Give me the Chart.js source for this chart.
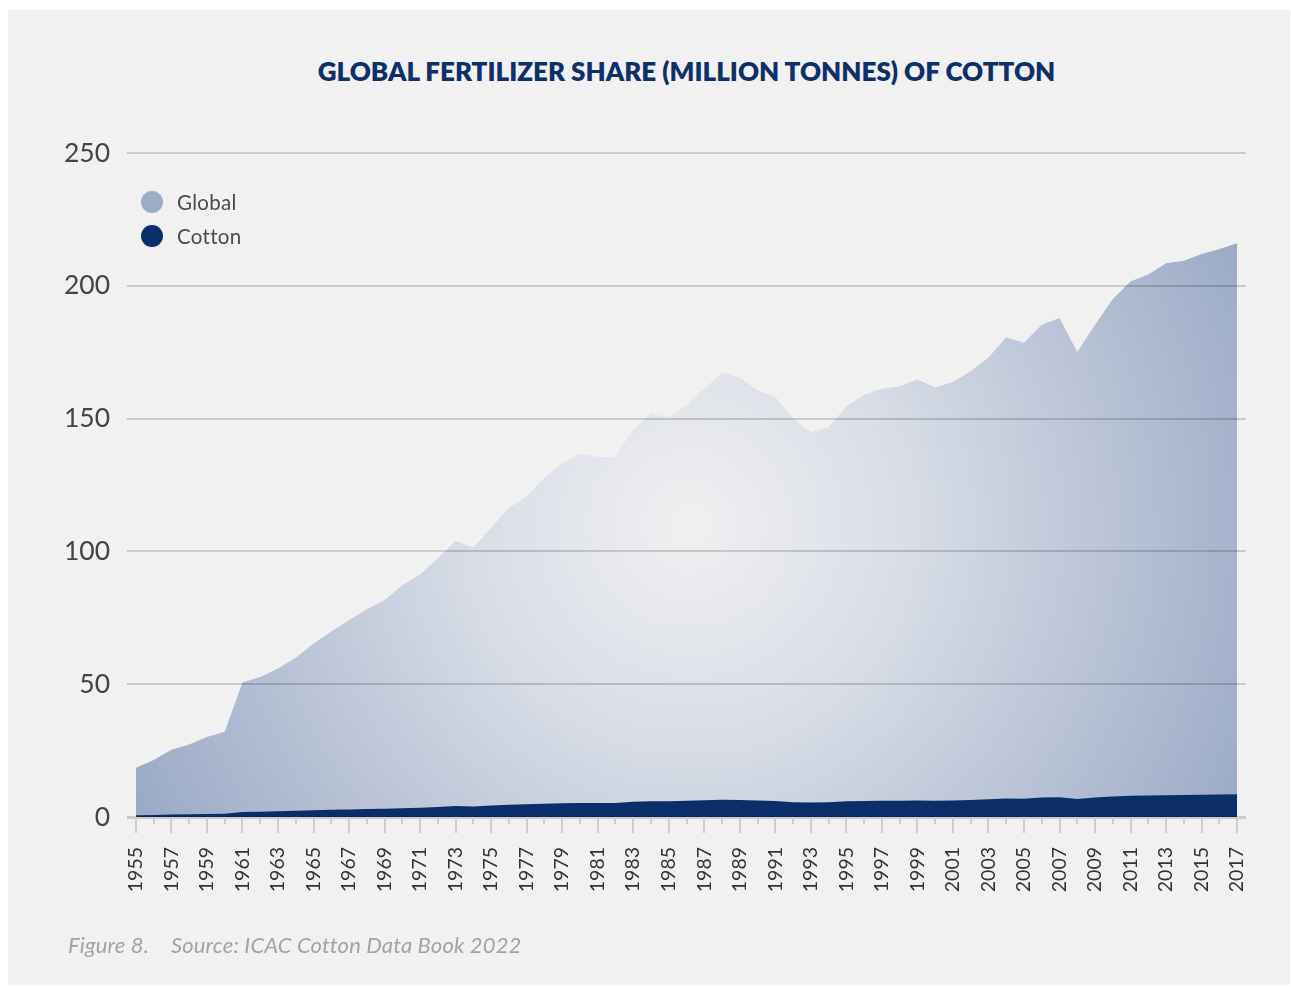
<!DOCTYPE html>
<html>
<head>
<meta charset="utf-8">
<script src="https://cdn.jsdelivr.net/npm/chart.js@4.4.1/dist/chart.umd.min.js"></script>
<style>
  html, body { margin: 0; padding: 0; background: #ffffff; }
  body { width: 1291px; height: 987px; position: relative; overflow: hidden; font-family: Lato, "Open Sans", sans-serif; }
  #panel { position: absolute; left: 8px; top: 10px; width: 1282px; height: 975px; background: #f1f1f1; }
  #wrap { position: absolute; left: 0; top: 0; width: 1291px; height: 987px; }
  #title { position: absolute; left: 0; width: 1373px; top: 55px; text-align: center; font-weight: 800; font-size: 26px; color: #0d2f6a; letter-spacing: 0px; white-space: nowrap; }
  #legend { position: absolute; left: 141px; top: 185px; }
  .li { display: flex; align-items: center; height: 34px; font-size: 20.5px; color: #4a4a4a; letter-spacing: 0.3px; }
  .dot { width: 22px; height: 22px; border-radius: 50%; margin-right: 14px; }
  #note { position: absolute; left: 68px; top: 931px; font-style: italic; font-size: 22px; color: #a3a3a3; white-space: nowrap; letter-spacing: 0.15px; }
  #note span.g { display: inline-block; width: 22px; }
</style>
</head>
<body>
<div id="panel"></div>
<div id="title">GLOBAL FERTILIZER SHARE (MILLION TONNES) OF COTTON</div>
<div id="wrap"><canvas id="c" width="1291" height="987"></canvas></div>
<div id="legend">
  <div class="li"><div class="dot" style="background:#9dadc8"></div>Global</div>
  <div class="li"><div class="dot" style="background:#0a2e69"></div>Cotton</div>
</div>
<div id="note">Figure 8.<span class="g"></span>Source: ICAC Cotton Data Book 2022</div>
<script>
const years = ["1955","1956","1957","1958","1959","1960","1961","1962","1963","1964",
  "1965","1966","1967","1968","1969","1970","1971","1972","1973","1974",
  "1975","1976","1977","1978","1979","1980","1981","1982","1983","1984",
  "1985","1986","1987","1988","1989","1990","1991","1992","1993","1994",
  "1995","1996","1997","1998","1999","2000","2001","2002","2003","2004",
  "2005","2006","2007","2008","2009","2010","2011","2012","2013","2014",
  "2015","2016","2017"];

const globalValues = [18.5, 21.5, 25.3, 27.3, 30.1, 32.1, 50.6, 52.7, 55.9, 60.0,
  65.3, 69.8, 74.1, 78.2, 81.6, 87.3, 91.4, 97.3, 103.9, 101.4,
  108.9, 116.3, 120.8, 127.7, 133.0, 136.8, 135.5, 135.5, 145.9, 151.9,
  150.5, 155.0, 161.2, 167.2, 165.5, 160.7, 158.2, 149.9, 144.9, 146.7,
  154.6, 159.0, 161.2, 162.2, 164.7, 161.8, 163.8, 167.8, 173.0, 180.6,
  178.6, 185.3, 187.9, 175.1, 185.3, 195.0, 201.6, 204.3, 208.5, 209.4,
  212.0, 213.9, 216.0];

const cottonValues = [0.7, 0.8, 0.9, 1.0, 1.1, 1.2, 1.9, 2.0, 2.2, 2.4,
  2.5, 2.7, 2.8, 3.0, 3.1, 3.3, 3.5, 3.8, 4.1, 4.0,
  4.3, 4.6, 4.8, 5.0, 5.2, 5.3, 5.3, 5.3, 5.7, 5.9,
  5.9, 6.1, 6.3, 6.5, 6.4, 6.2, 6.0, 5.6, 5.5, 5.6,
  5.9, 6.0, 6.1, 6.1, 6.2, 6.1, 6.2, 6.4, 6.7, 7.0,
  6.9, 7.3, 7.4, 6.8, 7.3, 7.7, 8.0, 8.1, 8.2, 8.3,
  8.4, 8.5, 8.6];

const yTicks = [0, 50, 100, 150, 200, 250];

function globalFill(ctx) {
  const chart = ctx.chart;
  const ca = chart.chartArea;
  if (!ca) return '#b8c3d5';
  const w = ca.right - ca.left, h = ca.bottom - ca.top;
  const cx = ca.left + w * 0.503, cy = ca.top + h * 0.56;
  const r = w * 0.56;
  const g = chart.ctx.createRadialGradient(cx, cy, 0, cx, cy, r);
  g.addColorStop(0, '#f0f0f1');
  g.addColorStop(0.35, '#d8dde6');
  g.addColorStop(1, '#9aa9c4');
  return g;
}

const tickPlugin = {
  id: 'xticks',
  afterDraw(chart) {
    const xs = chart.scales.x;
    const c = chart.ctx;
    const y0 = chart.chartArea.bottom;
    c.save();
    c.strokeStyle = '#cdcdcd';
    c.lineWidth = 2;
    for (let i = 0; i < years.length; i++) {
      const x = Math.round(xs.getPixelForTick(i));
      const len = (i % 2 === 0) ? 16 : 7;
      c.beginPath();
      c.moveTo(x, y0);
      c.lineTo(x, y0 + len);
      c.stroke();
    }
    c.restore();
  }
};

new Chart(document.getElementById('c'), {
  type: 'line',
  data: {
    labels: years,
    datasets: [
      { label: 'Cotton', data: cottonValues, order: 0, fill: 'origin',
        backgroundColor: '#0a2e69', borderWidth: 0, pointRadius: 0, tension: 0 },
      { label: 'Global', data: globalValues, order: 1, fill: 'origin',
        backgroundColor: globalFill, borderWidth: 0, pointRadius: 0, tension: 0 }
    ]
  },
  options: {
    responsive: false,
    animation: false,
    layout: { padding: { left: 0, right: 45, top: 153, bottom: 70 } },
    plugins: { legend: { display: false }, tooltip: { enabled: false }, title: { display: false } },
    scales: {
      x: {
        offset: true,
        grid: { display: false },
        border: { display: false },
        ticks: {
          autoSkip: false, maxRotation: 90, minRotation: 90, padding: 22,
          color: '#333333', font: { family: 'Lato', size: 19.5 },
          callback: function(v, i) { return i % 2 === 0 ? years[i] : ''; }
        },
        afterFit(s) { s.height = 100; }
      },
      y: {
        min: 0, max: 250,
        afterBuildTicks(s) { s.ticks = yTicks.map(v => ({ value: v })); },
        grid: {
          z: 1, drawTicks: false,
          color: 'rgba(0,0,0,0.16)',
          lineWidth: (ctx) => ctx.tick && ctx.tick.value === 0 ? 3 : 2
        },
        border: { display: false },
        ticks: { padding: 17, color: '#444444', font: { family: 'Lato', size: 26.5 } },
        afterFit(s) { s.width = 127; }
      }
    }
  },
  plugins: [tickPlugin]
});
</script>
</body>
</html>
